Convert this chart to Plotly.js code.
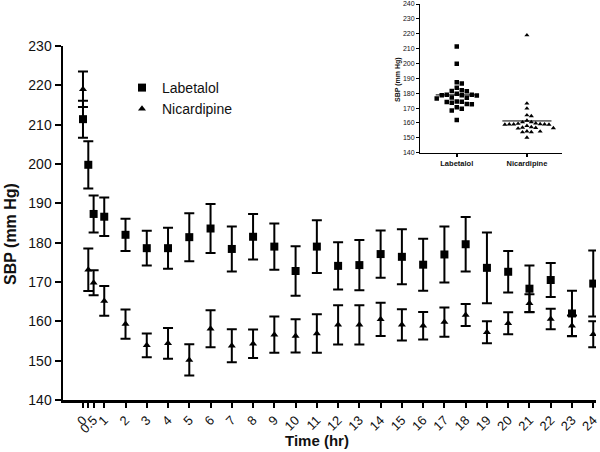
<!DOCTYPE html>
<html>
<head>
<meta charset="utf-8">
<script src="https://cdn.plot.ly/plotly-3.0.1.min.js"></script>
<style>html,body{margin:0;padding:0;background:#fff}#chart{width:600px;height:452px}</style>
</head>
<body>
<div id="chart"></div>
<script>
const times = [0,0.25,0.5,1,2,3,4,5,6,7,8,9,10,11,12,13,14,15,16,17,18,19,20,21,22,23,24];
const tickVals = [0,0.25,0.5,1,2,3,4,5,6,7,8,9,10,11,12,13,14,15,16,17,18,19,20,21,22,23,24];
const tickText = ['0','','0.5','1','2','3','4','5','6','7','8','9','10','11','12','13','14','15','16','17','18','19','20','21','22','23','24'];

const labetalolMean = [211.4,199.8,187.3,186.6,182.0,178.6,178.6,181.4,183.6,178.4,181.5,179.0,172.8,179.0,174.1,174.3,177.1,176.4,174.4,177.0,179.6,173.6,172.6,168.3,170.5,162.0,169.6];
const labetalolErr  = [4.7,6.0,4.7,4.9,4.1,4.4,5.2,6.1,6.2,5.7,5.8,5.9,6.3,6.7,6.0,6.4,6.0,7.0,6.6,7.1,6.9,9.0,5.3,5.9,4.3,5.8,8.4];
const nicardipineMean = [219.0,173.1,169.8,165.2,159.3,153.9,154.4,150.2,158.1,153.8,154.3,156.6,156.3,156.9,159.1,159.1,160.5,159.1,158.9,159.8,161.6,157.2,159.5,164.6,160.6,158.9,156.7];
const nicardipineErr  = [4.5,5.4,3.2,3.8,3.7,3.0,3.9,4.0,4.7,4.2,3.6,4.6,4.2,4.9,5.0,5.0,4.2,4.0,3.5,3.7,2.8,2.8,2.8,2.3,2.6,2.6,3.3];

const groups = ['Labetalol','Nicardipine'];
const yTicksMain = [140,150,160,170,180,190,200,210,220,230];
const yTicksInset = [140,150,160,170,180,190,200,210,220,230,240];

// deterministic beeswarm offsets (pixel space) for the inset column scatter
function swarm(vals, pxPerY, pxPerX, d) {
  const order = vals.map((v,i)=>i).sort((a,b)=>vals[b]-vals[a]);
  const placed = [];
  const off = new Array(vals.length).fill(0);
  order.forEach(i => {
    const y = vals[i]*pxPerY;
    for (let k = 0; k < 40; k++) {
      const m = Math.ceil(k/2) * (k % 2 === 1 ? 1 : -1);
      const x = m*d;
      const hit = placed.some(p => Math.abs(p.x-x) < d*0.99 && Math.abs(p.y-y) < d);
      if (!hit) { placed.push({x,y}); off[i] = x/pxPerX; break; }
    }
  });
  return off;
}
const mean = a => a.reduce((s,v)=>s+v,0)/a.length;

const insetPxX = 70, insetPxY = 1.487;
const labOff = swarm(labetalolMean, insetPxY, insetPxX, 5.0);
const nicOff = swarm(nicardipineMean, insetPxY, insetPxX, 4.4);

const black = '#000';
const traces = [
  {x: times, y: labetalolMean, name: 'Labetalol', type: 'scatter', mode: 'markers',
   marker: {symbol: 'square', size: 8, color: black},
   error_y: {type: 'data', array: labetalolErr, visible: true, color: black, thickness: 2, width: 5},
   xaxis: 'x', yaxis: 'y'},
  {x: times, y: nicardipineMean, name: 'Nicardipine', type: 'scatter', mode: 'markers',
   marker: {symbol: 'triangle-up', size: 7, color: black},
   error_y: {type: 'data', array: nicardipineErr, visible: true, color: black, thickness: 2, width: 5},
   xaxis: 'x', yaxis: 'y'},
  {x: labOff.map(o => 0 + o), y: labetalolMean, type: 'scatter', mode: 'markers', showlegend: false,
   marker: {symbol: 'square', size: 4.5, color: black}, xaxis: 'x2', yaxis: 'y2', hoverinfo: 'y'},
  {x: nicOff.map(o => 1 + o), y: nicardipineMean, type: 'scatter', mode: 'markers', showlegend: false,
   marker: {symbol: 'triangle-up', size: 4.5, color: black}, xaxis: 'x2', yaxis: 'y2', hoverinfo: 'y'},
  {x: [-0.3, 0.3], y: [mean(labetalolMean), mean(labetalolMean)], type: 'scatter', mode: 'lines', showlegend: false,
   line: {color: black, width: 1}, xaxis: 'x2', yaxis: 'y2', hoverinfo: 'skip'},
  {x: [0.65, 1.35], y: [mean(nicardipineMean), mean(nicardipineMean)], type: 'scatter', mode: 'lines', showlegend: false,
   line: {color: black, width: 1}, xaxis: 'x2', yaxis: 'y2', hoverinfo: 'skip'}
];

const W = 533, H = 396, L = 63, T = 4;
const px = x => (x - L)/W;
const py = y => (T + H - y)/H;

const layout = {
  width: 600, height: 452,
  margin: {l: L, r: 4, t: T, b: 52},
  paper_bgcolor: '#fff', plot_bgcolor: 'rgba(0,0,0,0)',
  font: {family: 'Liberation Sans, Arial, sans-serif', color: '#111', size: 14},
  showlegend: true,
  legend: {x: px(122), y: py(72), xanchor: 'left', yanchor: 'top', bgcolor: 'rgba(0,0,0,0)',
           font: {size: 14, color: '#111'}, tracegroupgap: 0, itemwidth: 30},
  xaxis: {domain: [0,1], range: [-0.94, 24.13], tickmode: 'array', tickvals: tickVals, ticktext: tickText,
          tickangle: -45, tickfont: {size: 13}, showgrid: false, zeroline: false,
          showline: true, linecolor: black, linewidth: 2.5, ticks: 'outside', ticklen: 5, tickwidth: 2, tickcolor: black,
          anchor: 'y'},
  yaxis: {domain: [0, 354/396], range: [140, 230], tickmode: 'array', tickvals: yTicksMain,
          tickfont: {size: 14}, showgrid: false, zeroline: false,
          showline: true, linecolor: black, linewidth: 2.5, ticks: 'outside', ticklen: 6, tickwidth: 2, tickcolor: black,
          anchor: 'x'},
  xaxis2: {domain: [px(420), px(562)], range: [-0.524, 1.5], tickmode: 'array', tickvals: [0,1], ticktext: groups,
           tickfont: {size: 7.5, family: 'Liberation Sans, Arial, sans-serif', weight: 'bold'}, showgrid: false, zeroline: false,
           showline: true, linecolor: black, linewidth: 1.5, ticks: 'outside', ticklen: 3, tickwidth: 1.5, tickcolor: black,
           anchor: 'y2'},
  yaxis2: {domain: [py(152.7), 1], range: [140, 240], tickmode: 'array', tickvals: yTicksInset,
           tickfont: {size: 7}, showgrid: false, zeroline: false,
           showline: true, linecolor: black, linewidth: 1.5, ticks: 'outside', ticklen: 2.5, tickwidth: 1, tickcolor: black,
           anchor: 'x2'},
  annotations: [
    {text: '<b>SBP (mm Hg)</b>', xref: 'paper', yref: 'paper', x: px(10), y: py(234), textangle: -90,
     showarrow: false, font: {size: 16, color: '#111'}, xanchor: 'center', yanchor: 'middle'},
    {text: '<b>Time (hr)</b>', xref: 'paper', yref: 'paper', x: px(317), y: py(440),
     showarrow: false, font: {size: 15, color: '#111'}, xanchor: 'center', yanchor: 'middle'},
    {text: '<b>SBP (mm Hg)</b>', xref: 'paper', yref: 'paper', x: px(398), y: py(80), textangle: -90,
     showarrow: false, font: {size: 7, color: '#111'}, xanchor: 'center', yanchor: 'middle'}
  ]
};

Plotly.newPlot('chart', traces, layout, {displayModeBar: false, staticPlot: true});
</script>
</body>
</html>
